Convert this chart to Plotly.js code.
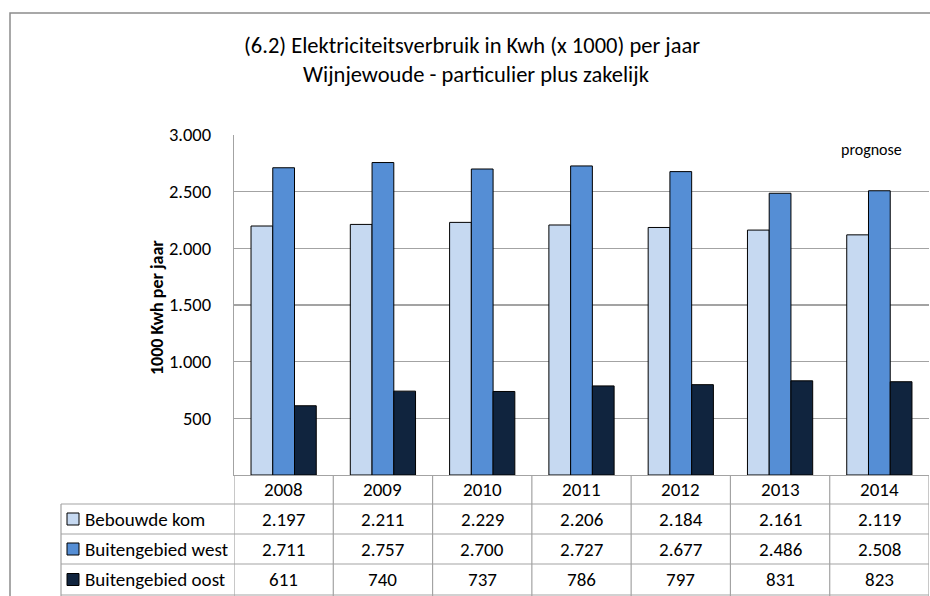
<!DOCTYPE html>
<html>
<head>
<meta charset="utf-8">
<script src="https://cdn.plot.ly/plotly-3.0.1.min.js"></script>
<style>html,body{margin:0;padding:0;background:#fff;}#chart{width:930px;height:596px;}</style>
</head>
<body>
<div id="chart"></div>
<script>
// ---- data ----
var years = ['2008', '2009', '2010', '2011', '2012', '2013', '2014'];
var seriesNames = ['Bebouwde kom', 'Buitengebied west', 'Buitengebied oost'];
var bebouwdeKom = [2197, 2211, 2229, 2206, 2184, 2161, 2119];
var buitengebiedWest = [2711, 2757, 2700, 2727, 2677, 2486, 2508];
var buitengebiedOost = [611, 740, 737, 786, 797, 831, 823];
var yTicks = [500, 1000, 1500, 2000, 2500, 3000];
var titleLine1 = '(6.2) Elektriciteitsverbruik in Kwh (x 1000) per jaar';
var titleLine2 = 'Wijnjewoude - particulier plus zakelijk';
var yTitle = '1000 Kwh per jaar';
var noteText = 'prognose';

// ---- styling ----
var colors = ['#C6D9F1', '#558ED5', '#10243E'];
var FONT = 'Carlito, Lato, "Open Sans", sans-serif';
var GRID = '#a3a3a3';
var W = 930, H = 596;
var L = 234, R = 929, T = 135, B = 475;
function px2x(px) { return (px - L) / (R - L); }
function px2y(py) { return (B - py) / (B - T); }
function fmt(v) { return String(v).replace(/\B(?=(\d{3})+(?!\d))/g, '.'); }

var allSeries = [bebouwdeKom, buitengebiedWest, buitengebiedOost];
var traces = allSeries.map(function (vals, i) {
  return {
    type: 'bar', x: years, y: vals, name: seriesNames[i],
    marker: { color: colors[i], line: { color: '#000', width: 1 } },
    hoverinfo: 'skip'
  };
});

var shapes = [];
var annotations = [];
var TXT = { family: FONT, size: 19, color: '#000' };

// outer frame
shapes.push({ type: 'rect', xref: 'paper', yref: 'paper',
  x0: px2x(10), x1: px2x(940), y0: px2y(610), y1: px2y(13),
  line: { color: '#8c8c8c', width: 1.5 }, fillcolor: 'rgba(0,0,0,0)', layer: 'below' });

// table geometry
var rowLines = [504, 534, 564, 595];
var legendLeft = 61;
rowLines.forEach(function (py) {
  shapes.push({ type: 'line', xref: 'paper', yref: 'paper', x0: px2x(legendLeft), x1: px2x(R),
    y0: px2y(py), y1: px2y(py), line: { color: GRID, width: 1.2 } });
});
shapes.push({ type: 'line', xref: 'paper', yref: 'paper', x0: px2x(legendLeft), x1: px2x(legendLeft),
  y0: px2y(504), y1: px2y(600), line: { color: GRID, width: 1.2 } });
for (var k = 0; k <= years.length; k++) {
  shapes.push({ type: 'line', xref: 'x', yref: 'paper', x0: k - 0.5, x1: k - 0.5,
    y0: px2y(B), y1: px2y(600), line: { color: GRID, width: 1.2 } });
}

// table texts
var rowCenters = [489.5, 519, 549, 579.5];
years.forEach(function (yr, i) {
  annotations.push({ xref: 'x', yref: 'paper', x: i, y: px2y(rowCenters[0]), text: yr,
    showarrow: false, xanchor: 'center', yanchor: 'middle', font: TXT });
  allSeries.forEach(function (vals, s) {
    annotations.push({ xref: 'x', yref: 'paper', x: i, y: px2y(rowCenters[s + 1]), text: fmt(vals[i]),
      showarrow: false, xanchor: 'center', yanchor: 'middle', font: TXT });
  });
});
// legend column
seriesNames.forEach(function (nm, s) {
  var cy = rowCenters[s + 1];
  shapes.push({ type: 'rect', xref: 'paper', yref: 'paper', x0: px2x(67), x1: px2x(79),
    y0: px2y(cy + 6), y1: px2y(cy - 6), fillcolor: colors[s], line: { color: '#000', width: 1 } });
  annotations.push({ xref: 'paper', yref: 'paper', x: px2x(83), y: px2y(cy), text: nm,
    showarrow: false, xanchor: 'left', yanchor: 'middle', font: TXT });
});

// titles
annotations.push({ xref: 'paper', yref: 'paper', x: px2x(472), y: px2y(45), text: titleLine1,
  showarrow: false, xanchor: 'center', yanchor: 'middle', font: { family: FONT, size: 22.5, color: '#000' } });
annotations.push({ xref: 'paper', yref: 'paper', x: px2x(476), y: px2y(75), text: titleLine2,
  showarrow: false, xanchor: 'center', yanchor: 'middle', font: { family: FONT, size: 22.5, color: '#000' } });
// y title
annotations.push({ xref: 'paper', yref: 'paper', x: px2x(157), y: px2y(308), text: '<b>' + yTitle + '</b>',
  showarrow: false, textangle: -90, xanchor: 'center', yanchor: 'middle', font: { family: FONT, size: 18, color: '#000' } });
// note
annotations.push({ xref: 'paper', yref: 'paper', x: px2x(871), y: px2y(149), text: noteText,
  showarrow: false, xanchor: 'center', yanchor: 'middle', font: { family: FONT, size: 16, color: '#000' } });

var layout = {
  width: W, height: H,
  margin: { l: L, r: W - R, t: T, b: H - B, pad: 0 },
  paper_bgcolor: '#fff', plot_bgcolor: '#fff',
  separators: ',.',
  barmode: 'group', bargap: 0.343, bargroupgap: 0,
  showlegend: false,
  xaxis: { type: 'category', showticklabels: false, ticks: '', showgrid: false, zeroline: false,
    showline: true, linecolor: GRID, linewidth: 1.2, range: [-0.5, years.length - 0.5], fixedrange: true },
  yaxis: { range: [0, 3000], tickvals: yTicks, tickformat: ',d', showgrid: true, gridcolor: GRID, gridwidth: 1.2,
    zeroline: false, showline: true, linecolor: GRID, linewidth: 1.2, ticks: '', ticklabelstandoff: 18,
    tickfont: { family: FONT, size: 18.5, color: '#000' }, fixedrange: true },
  shapes: shapes,
  annotations: annotations,
  font: { family: FONT, color: '#000' }
};

Plotly.newPlot('chart', traces, layout, { displayModeBar: false, staticPlot: true });
</script>
</body>
</html>
